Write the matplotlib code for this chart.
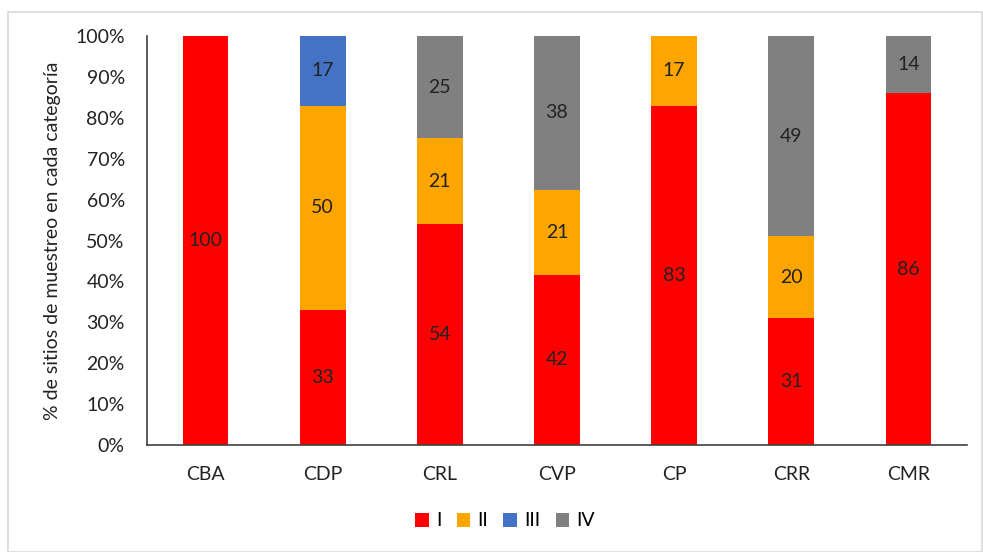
import matplotlib
matplotlib.use("Agg")
import matplotlib.pyplot as plt
from matplotlib.patches import Rectangle
import numpy as np

categories = ["CBA", "CDP", "CRL", "CVP", "CP", "CRR", "CMR"]
series_names = ["I", "II", "III", "IV"]
I_vals = [100, 33, 54, 42, 83, 31, 86]
II_vals = [0, 50, 21, 21, 17, 20, 0]
III_vals = [0, 17, 0, 0, 0, 0, 0]
IV_vals = [0, 0, 25, 38, 0, 49, 14]
yticks = [0, 10, 20, 30, 40, 50, 60, 70, 80, 90, 100]
colors = ["#FF0000", "#FFA500", "#4472C4", "#808080"]

plt.rcParams['font.family'] = ['Lato', 'DejaVu Sans']
FS = 14

fig = plt.figure(figsize=(9.83, 5.52), dpi=100)
fig.patches.append(Rectangle((8/983, 0), 1 - 8/983 - 0.001, 1 - 12/552, transform=fig.transFigure,
                             fill=False, edgecolor="#D9D9D9", linewidth=1.2))
ax = fig.add_axes([147/983, 107/552, (967-147)/983, (445-36)/552])

data = np.array([I_vals, II_vals, III_vals, IV_vals], dtype=float)
totals = data.sum(axis=0)
pct = data / totals * 100
x = np.arange(len(categories))
bottom = np.zeros(len(categories))
for i, name in enumerate(series_names):
    ax.bar(x, pct[i], bottom=bottom, width=0.39, color=colors[i], label=name,
           edgecolor="none")
    for j in range(len(categories)):
        if data[i, j] > 0:
            ax.text(x[j], bottom[j] + pct[i, j] / 2, f"{int(data[i, j])}",
                    ha="center", va="center", fontsize=FS, color="#222222")
    bottom += pct[i]

ax.set_xlim(-0.5, len(categories) - 0.5)
ax.set_ylim(0, 100)
ax.set_yticks(yticks)
ax.set_yticklabels([f"{t}%" for t in yticks], fontsize=FS, color="#222222")
ax.set_xticks(x)
ax.set_xticklabels(categories, fontsize=FS, color="#222222")
ax.tick_params(axis="y", length=0, pad=16)
ax.tick_params(axis="x", length=0, pad=15)
for s in ["top", "right"]:
    ax.spines[s].set_visible(False)
ax.spines["left"].set_color("#404040")
ax.spines["bottom"].set_color("#404040")
ax.spines["left"].set_linewidth(1.2)
ax.spines["bottom"].set_linewidth(1.2)
ax.set_ylabel("% de sitios de muestreo en cada categoría", fontsize=FS, color="#222222", labelpad=10)

fig.legend(loc="center", bbox_to_anchor=(505/983, 1 - 521/552), ncol=4, frameon=False,
           fontsize=FS, handlelength=0.7, handleheight=0.7, handletextpad=0.35,
           columnspacing=0.8)

fig.savefig("out.png", dpi=100)
